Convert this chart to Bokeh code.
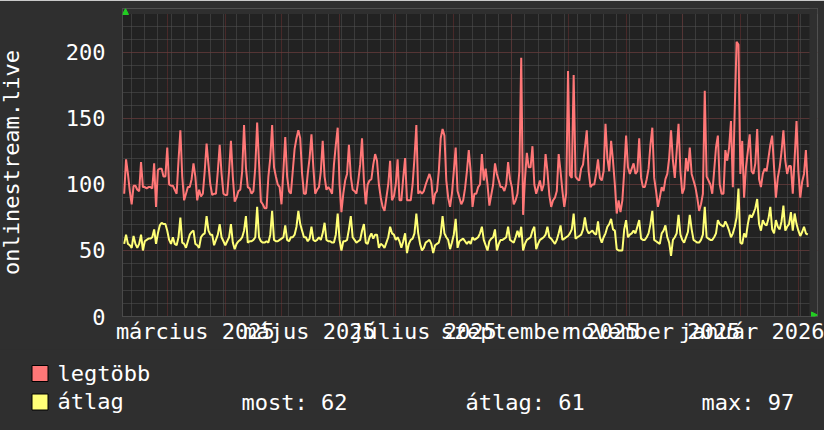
from datetime import date
from bokeh.plotting import figure
from bokeh.models import (Range1d, FixedTicker, Label, Arrow, NormalHead, BoxAnnotation)
from bokeh.embed import file_html
from bokeh.resources import INLINE

# ---------------- data (daily values, first day = 2025-02-06) ----------------
first_day = date(2025, 2, 6)

legtobb = [
    93, 119, 108, 95, 85, 99, 99, 96, 95, 117,
    98, 98, 97, 98, 98, 97, 116, 83, 111, 112,
    112, 106, 106, 128, 100, 99, 99, 96, 93, 118,
    141, 106, 88, 93, 98, 98, 104, 116, 106, 88,
    96, 91, 93, 110, 131, 115, 100, 92, 93, 93,
    110, 130, 108, 93, 92, 92, 110, 133, 106, 87,
    90, 95, 96, 110, 145, 113, 98, 97, 93, 95,
    113, 147, 116, 87, 85, 82, 82, 106, 120, 145,
    113, 106, 100, 98, 85, 110, 136, 106, 95, 93,
    110, 127, 135, 141, 135, 108, 93, 93, 108, 120,
    138, 113, 93, 96, 98, 110, 133, 106, 96, 98,
    96, 93, 115, 130, 143, 100, 79, 93, 103, 108,
    130, 106, 96, 95, 93, 103, 115, 135, 103, 85,
    100, 103, 104, 115, 123, 118, 100, 90, 83, 80,
    90, 100, 118, 88, 91, 100, 119, 88, 88, 105,
    120, 88, 88, 88, 100, 120, 145, 93, 95, 93,
    95, 100, 104, 108, 103, 85, 93, 95, 110, 135,
    142, 137, 103, 90, 83, 93, 110, 128, 95, 90,
    85, 88, 97, 110, 126,
    110, 83, 93, 93, 98, 100, 123, 103, 112, 100,
    84, 92, 100, 116, 108, 103, 98, 98, 95, 100,
    117, 104, 98, 85, 88, 93, 110, 196, 77, 104,
    124, 113, 113, 129, 100, 93, 98, 103, 95, 100,
    123, 110, 92, 83, 88, 90, 95, 123, 110, 95,
    83, 93, 186, 107, 105, 183, 106, 104, 103, 112,
    115, 128, 141, 110, 98, 100, 100, 108, 119, 105,
    103, 110, 146, 120, 110, 133, 118, 100, 78, 88,
    79, 88, 110, 137, 113, 108, 112, 116, 108, 110,
    135, 105, 98, 98, 104, 112, 130, 143, 105, 95,
    83, 90, 98, 95, 104, 108, 120, 141, 118, 105,
    125, 146, 110, 93, 97, 120, 110, 128, 108, 103,
    98, 90, 80, 85, 93, 171, 106, 103, 100, 93,
    110, 128, 137, 100, 93, 93, 126, 118, 128, 148,
    98, 156, 208, 206, 108, 133, 90, 113, 125, 138,
    110, 108, 116, 142, 104, 98, 108, 112, 110, 120,
    130, 137, 113, 90, 105, 113, 125, 141, 118, 108,
    114, 114, 93, 120, 148, 110, 90, 102, 108, 126,
    98,
]

atlag = [
    55, 62, 55, 54, 52, 61, 55, 52, 55, 62,
    50, 57, 58, 59, 59, 60, 66, 55, 63, 69,
    71, 70, 70, 65, 58, 55, 60, 55, 54, 60,
    75, 56, 55, 52, 57, 62, 64, 65, 55, 54,
    52, 60, 62, 63, 76, 65, 62, 62, 54, 58,
    62, 70, 60, 57, 54, 57, 60, 70, 56, 51,
    55, 57, 58, 60, 65, 76, 56, 57, 57, 58,
    60, 83, 60, 57, 56, 56, 57, 56, 62, 80,
    58, 57, 57, 58, 59, 60, 69, 58, 57, 60,
    60, 62, 68, 80, 70, 65, 60, 60, 57, 59,
    68, 58, 57, 58, 60, 58, 63, 71, 58, 57,
    57, 56, 56, 62, 78, 58, 50, 57, 57, 58,
    66, 76, 60, 58, 56, 57, 58, 65, 70, 56,
    55, 60, 63, 59, 62, 62, 52, 55, 54, 52,
    56, 60, 68, 63, 62, 58, 60, 57, 52, 57,
    63, 48, 55, 58, 59, 63, 78, 63, 55, 50,
    52, 56, 57, 58, 55, 48, 54, 55, 56, 62,
    76, 63, 60, 58, 51, 56, 62, 74, 52, 57,
    58, 59, 57, 55, 57,
    55, 60, 58, 59, 60, 63, 68, 58, 54, 50,
    57, 59, 60, 66, 50, 55, 58, 58, 59, 60,
    68, 58, 57, 56, 60, 65, 60, 68, 50, 55,
    58, 59, 60, 65, 68, 51, 55, 58, 59, 60,
    62, 68, 60, 59, 57, 55, 58, 63, 69, 58,
    59, 60, 61, 63, 66, 78, 59, 60, 61, 62,
    66, 75, 66, 63, 64, 65, 63, 62, 72, 60,
    56, 60, 63, 68, 70, 74, 66, 65, 51, 50,
    50, 50, 66, 73, 60, 62, 63, 65, 63, 68,
    73, 59, 58, 58, 60, 63, 70, 80, 58, 57,
    56, 55, 63, 65, 69, 60, 56, 46, 58, 60,
    63, 77, 62, 58, 56, 60, 64, 77, 66, 58,
    57, 56, 56, 58, 62, 83, 60, 59, 58, 58,
    60, 63, 73, 70, 69, 68, 72, 69, 65, 60,
    63, 68, 75, 97, 56, 55, 63, 60, 70, 77,
    75, 78, 82, 89, 70, 65, 73, 70, 69, 74,
    83, 66, 63, 73, 68, 66, 72, 84, 65, 68,
    70, 79, 65, 78, 70, 65, 61, 64, 68, 63,
    62,
]

x_label_months = [(2025, 3), (2025, 5), (2025, 7), (2025, 9), (2025, 11), (2026, 1)]
x_label_texts = ["március 2025", "május 2025", "július 2025",
                 "szeptember 2025", "november 2025", "január 2026"]
y_ticks = [0, 50, 100, 150, 200]
legend_labels = ["legtöbb", "átlag"]
stats_texts = ["most: 62", "átlag: 61", "max: 97"]

# plotted extents (in day numbers since 2025-01-01 and in values)
x_start, x_canvas_end, x_axis_end = 35.1, 401.9, 406.2
y_canvas_top, y_axis_top = 229.2, 233.3

# ---------------- derived day coordinates ----------------
epoch = date(2025, 1, 1)
def dayno(d):
    return (d - epoch).days

d0 = dayno(first_day)
days = [d0 + i for i in range(len(legtobb))]

month_starts = [dayno(date(2025 + (m - 1) // 12, (m - 1) % 12 + 1, 1)) for m in range(2, 15)]
label_ticks = [dayno(date(y, m, 1)) + 15 for (y, m) in x_label_months]
mondays = [d for d in range(0, 420) if (d - 5) % 7 == 0]

FONT = "DejaVu Sans Mono"
FS = "22px"
TXT = "#ffffff"
BACK = "#2f2f2f"
CANVAS = "#222222"
red = "#ff7777"
yel = "#ffff77"

p = figure(width=832, height=350, output_backend="svg", toolbar_location=None,
           title=None,
           x_range=Range1d(x_start, x_axis_end), y_range=Range1d(0, y_axis_top),
           min_border_left=130, min_border_right=7, min_border_top=8,
           min_border_bottom=34,
           background_fill_color=CANVAS, border_fill_color=BACK,
           outline_line_color=None)
p.styles = {"position": "absolute", "left": "-8px", "top": "0px"}

# grids
p.xgrid.ticker = FixedTicker(ticks=month_starts, minor_ticks=mondays)
p.xgrid.grid_line_color = "#703030"
p.xgrid.grid_line_dash = "1 1"
p.xgrid.minor_grid_line_color = "#555555"
p.xgrid.minor_grid_line_dash = "1 1"

p.yaxis.ticker = FixedTicker(ticks=y_ticks, minor_ticks=list(range(0, 230, 10)))
p.ygrid.grid_line_color = "#703030"
p.ygrid.grid_line_dash = "1 1"
p.ygrid.minor_grid_line_color = "#555555"
p.ygrid.minor_grid_line_dash = "1 1"

# strips outside the rrd canvas (axes run on to the arrows)
p.add_layout(BoxAnnotation(bottom=y_canvas_top, fill_color=BACK, fill_alpha=1,
                           line_color=None, level="underlay"))
p.add_layout(BoxAnnotation(left=x_canvas_end, fill_color=BACK, fill_alpha=1,
                           line_color=None, level="underlay"))

# axes
p.xaxis.ticker = FixedTicker(ticks=label_ticks)
p.xaxis.major_label_overrides = {t: s for t, s in zip(label_ticks, x_label_texts)}
for ax in (p.xaxis[0], p.yaxis[0]):
    ax.major_label_text_font = FONT
    ax.major_label_text_font_size = FS
    ax.major_label_text_color = TXT
    ax.major_tick_line_color = None
    ax.minor_tick_line_color = None
    ax.major_tick_out = 0
    ax.major_tick_in = 0
    ax.axis_line_color = "#4a4a4a"
p.xaxis.major_label_standoff = 2
p.yaxis.major_label_standoff = 13
p.yaxis.axis_label = "onlinestream.live"
p.yaxis.axis_label_text_font = FONT
p.yaxis.axis_label_text_font_size = FS
p.yaxis.axis_label_text_font_style = "normal"
p.yaxis.axis_label_text_color = TXT
p.yaxis.axis_label_standoff = 39

# series
p.line(days, legtobb, line_color=red, line_width=2)
p.line(days, atlag, line_color=yel, line_width=2)

# axis arrows
green = "#22cc22"
p.add_layout(Arrow(x_start=3, y_start=300, x_end=3, y_end=308,
                   start_units="screen", end_units="screen", line_color=None,
                   end=NormalHead(size=6, fill_color=green, line_color=green)))
p.add_layout(Arrow(x_start=687, y_start=1.5, x_end=695, y_end=1.5,
                   start_units="screen", end_units="screen", line_color=None,
                   end=NormalHead(size=6, fill_color=green, line_color=green)))

# ---------------- legend strip (separate canvas below the chart) ----------------
p2 = figure(width=832, height=81, output_backend="svg", toolbar_location=None,
            title=None, x_axis_type=None, y_axis_type=None,
            x_range=Range1d(0, 1), y_range=Range1d(0, 1),
            min_border_left=0, min_border_right=0, min_border_top=0,
            min_border_bottom=0,
            background_fill_color=BACK, border_fill_color=BACK,
            outline_line_color=None)
p2.styles = {"position": "absolute", "left": "-8px", "top": "349px"}

# swatches: (colour, top, bottom) in screen px from the strip's bottom
for colour, top, bottom in [(red, 65, 49), (yel, 36.5, 20.5)]:
    p2.add_layout(BoxAnnotation(left=39.5, right=55.5, top=top, bottom=bottom,
                                left_units="screen", right_units="screen",
                                top_units="screen", bottom_units="screen",
                                fill_color=colour, fill_alpha=1,
                                line_color="black", line_width=1, line_alpha=1))

def add_text(txt, x, y):
    p2.add_layout(Label(x=x, y=y, x_units="screen", y_units="screen", text=txt,
                        text_font=FONT, text_font_size=FS, text_color=TXT,
                        text_baseline="alphabetic"))

add_text(legend_labels[0], 65, 57.5)
add_text(legend_labels[1], 65, 29)
for txt, xs in zip(stats_texts, [249, 473, 709]):
    add_text(txt, xs, 28.5)

open("out.html", "w").write(file_html([p, p2], INLINE))
